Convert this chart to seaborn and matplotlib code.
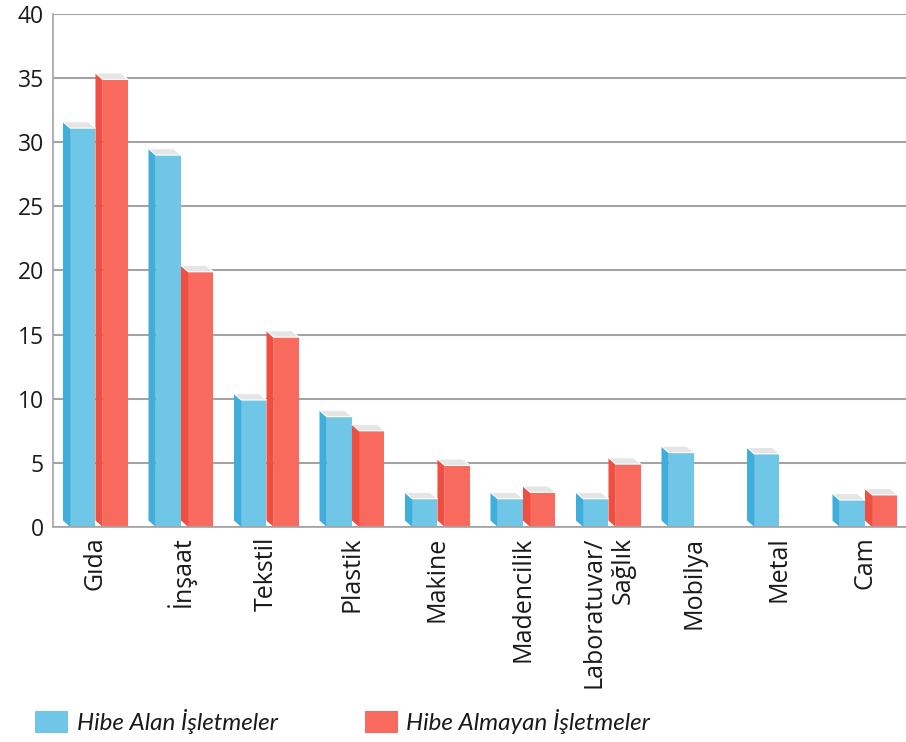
import matplotlib.pyplot as plt
from matplotlib.patches import Polygon
import seaborn as sns
import pandas as pd

# values
sektorler = ['Gıda', 'İnşaat', 'Tekstil', 'Plastik', 'Makine', 'Madencilik',
             'Laboratuvar/\nSağlık', 'Mobilya', 'Metal', 'Cam']
hibe_alan = [31.1, 29.0, 9.9, 8.6, 2.2, 2.2, 2.2, 5.8, 5.7, 2.1]
hibe_almayan = [34.9, 19.9, 14.8, 7.5, 4.8, 2.7, 4.9, 0, 0, 2.5]
gruplar = ['Hibe Alan İşletmeler', 'Hibe Almayan İşletmeler']

on_renk = ['#70C6E6', '#F8695E']    # front faces
yan_renk = ['#40AEDA', '#EE4F41']   # side faces
kapak_renk = '#E4E5E5'
izgara = '#A3A3A3'

df = pd.DataFrame({
    'sektor': sektorler * 2,
    'oran': hibe_alan + hibe_almayan,
    'grup': [gruplar[0]] * len(sektorler) + [gruplar[1]] * len(sektorler),
})

sns.set_style('white')
plt.rcParams['font.family'] = ['Open Sans', 'DejaVu Sans']

fig = plt.figure(figsize=(9.06, 7.42), dpi=100)
ax = fig.add_axes([0.0582, 0.2898, 0.9437, 0.6913])
sns.barplot(data=df, x='sektor', y='oran', hue='grup', palette=on_renk,
            width=0.76, saturation=1, linewidth=0, ax=ax)

# fake 3D: darker left face + grey top cap
dx, dy = 0.085, 0.5
for cont, yan in zip(ax.containers, yan_renk):
    for bar in cont:
        h = bar.get_height()
        if not h > 0:
            continue
        x0 = bar.get_x()
        x1 = x0 + bar.get_width()
        xf = x0 + dx
        bar.set_x(xf)
        bar.set_width(x1 - xf)
        z = bar.get_zorder()
        ax.add_patch(Polygon([(x0, dy), (xf, 0), (xf, h), (x0, h + dy)],
                             closed=True, facecolor=yan, edgecolor='none', zorder=z))
        ax.add_patch(Polygon([(x0, h + dy), (x1 - dx, h + dy), (x1, h), (xf, h)],
                             closed=True, facecolor=kapak_renk, edgecolor='white',
                             lw=0.8, zorder=z + 0.1))

ax.set_xlim(-0.5, len(sektorler) - 0.5)
ax.set_ylim(0, 40)
ax.set_yticks(range(0, 41, 5))
ax.yaxis.grid(True, color=izgara, lw=1.5)
ax.set_axisbelow(True)
for s in ['top', 'right']:
    ax.spines[s].set_visible(False)
for s in ['left', 'bottom']:
    ax.spines[s].set_color(izgara)
    ax.spines[s].set_linewidth(1.2)

ax.tick_params(axis='y', length=4.5, width=1.2, color=izgara, pad=2,
               labelsize=16.5, labelcolor='#1a1a1a')
ax.set_xticks([i - 0.5 for i in range(len(sektorler) + 1)], minor=True)
ax.tick_params(axis='x', which='major', length=0, pad=7, labelsize=18,
               labelcolor='#1a1a1a')
ax.tick_params(axis='x', which='minor', length=7, width=1.2, color=izgara)
plt.setp(ax.get_xticklabels(), rotation=90, va='top', ha='center',
         multialignment='right')
ax.set_xlabel('')
ax.set_ylabel('')

handles, labels = ax.get_legend_handles_labels()
ax.get_legend().remove()
fig.legend(handles, labels, loc='center left', bbox_to_anchor=(0.0386, 0.027),
           ncol=2, frameon=False,
           prop={'family': ['Lato', 'DejaVu Sans'], 'style': 'italic', 'size': 17.4},
           labelcolor='#1a1a1a', handlelength=1.36, handleheight=1.0,
           handletextpad=0.37, columnspacing=3.6, borderpad=0, borderaxespad=0)

fig.savefig('out.png', dpi=100)
